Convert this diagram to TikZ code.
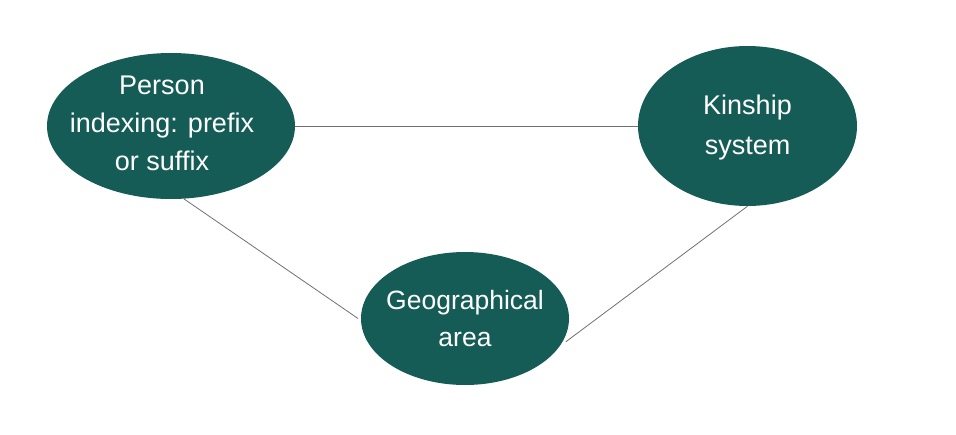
\documentclass[tikz,border=0pt]{standalone}
\usepackage{fontspec}
\setmainfont{Liberation Sans}
\usetikzlibrary{shapes.geometric}
\definecolor{teal1}{HTML}{155C57}
\definecolor{lgray}{HTML}{707070}
\begin{document}
\begin{tikzpicture}[x=1pt,y=-1pt,
  bubble/.style={ellipse,fill=teal1,inner sep=0pt},
  label/.style={text=white,inner sep=0pt,align=center},
  link/.style={draw=lgray,line width=0.8pt}]
\useasboundingbox (0,0) rectangle (956,434);
\node[bubble,minimum width=248pt,minimum height=146pt] (p) at (171,126) {};
\node[label,font=\fontsize{27}{38}\selectfont] (pt) at (162,123) {Person\\indexing: prefix\\or suffix};
\node[bubble,minimum width=219pt,minimum height=160pt] (k) at (747.5,126) {};
\node[label,font=\fontsize{27}{40}\selectfont] (kt) at (747.5,128) {Kinship\\system};
\node[bubble,minimum width=208pt,minimum height=133pt,outer sep=3pt] (g) at (465,318.5) {};
\node[label,font=\fontsize{26.5}{37}\selectfont] (gt) at (465,318.5) {Geographical\\area};
\draw[link] (p.east) -- (k.west);
\draw[link] (p.280) -- (g.west);
\draw[link] (k.south) -- (g.-13);
\end{tikzpicture}
\end{document}
